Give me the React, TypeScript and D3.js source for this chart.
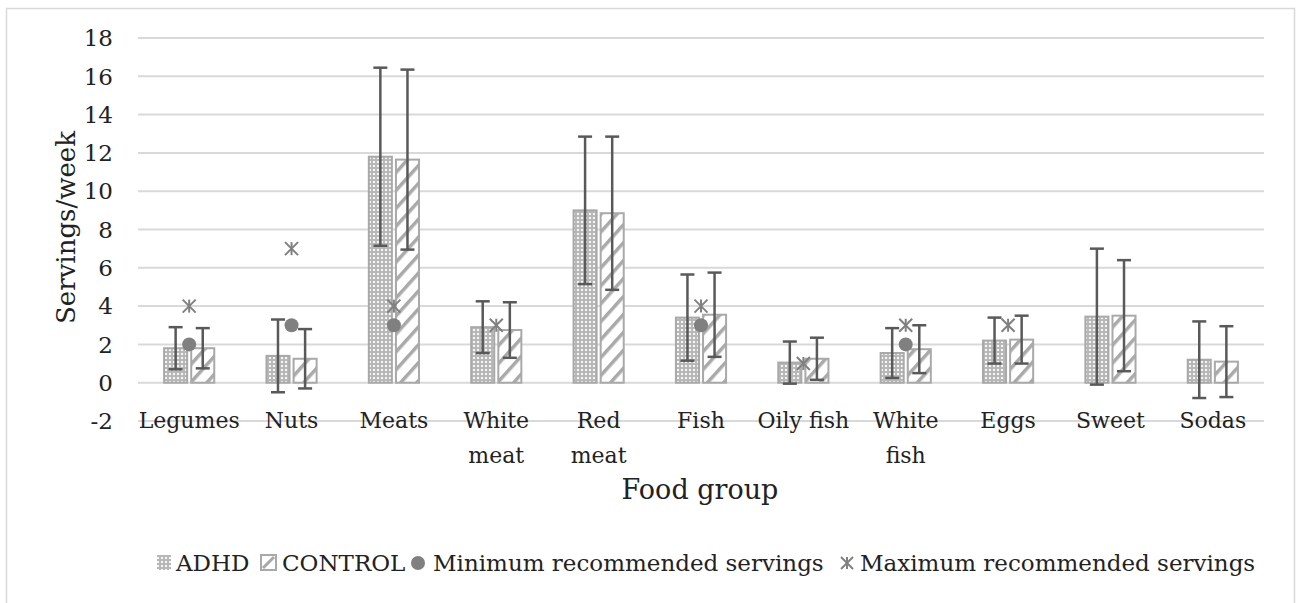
import * as d3 from 'd3';

const categories = ['Legumes', 'Nuts', 'Meats', 'White meat', 'Red meat', 'Fish', 'Oily fish', 'White fish', 'Eggs', 'Sweet', 'Sodas'];
const categoryLines = [['Legumes'], ['Nuts'], ['Meats'], ['White', 'meat'], ['Red', 'meat'], ['Fish'], ['Oily fish'], ['White', 'fish'], ['Eggs'], ['Sweet'], ['Sodas']];

const adhdMean = [1.8, 1.4, 11.8, 2.9, 9.0, 3.4, 1.05, 1.55, 2.2, 3.45, 1.2];
const adhdSd = [1.1, 1.9, 4.65, 1.35, 3.85, 2.25, 1.1, 1.3, 1.2, 3.55, 2.0];
const controlMean = [1.8, 1.25, 11.65, 2.75, 8.85, 3.55, 1.25, 1.75, 2.25, 3.5, 1.1];
const controlSd = [1.05, 1.55, 4.7, 1.45, 4.0, 2.2, 1.1, 1.25, 1.25, 2.9, 1.85];

const minRecommended: (number | null)[] = [2, 3, 3, null, null, 3, null, 2, null, null, null];
const maxRecommended: (number | null)[] = [4, 7, 4, 3, null, 4, 1, 3, 3, null, null];

const yTicks = [-2, 0, 2, 4, 6, 8, 10, 12, 14, 16, 18];
const seriesNames = ['ADHD', 'CONTROL'];

const FONT = '"DejaVu Serif", serif';
const GRID = '#d9d9d9';
const BAR_GRAY = '#a9a9a9';
const ERR = '#595959';
const MARK = '#808080';

function Star({ cx, cy, r }: { cx: number; cy: number; r: number }) {
  return (
    <g stroke={MARK} strokeWidth={2}>
      <line x1={cx - r} y1={cy - r} x2={cx + r} y2={cy + r} />
      <line x1={cx - r} y1={cy + r} x2={cx + r} y2={cy - r} />
      <line x1={cx} y1={cy - r} x2={cx} y2={cy + r} />
    </g>
  );
}

export default function App() {
  const width = 1296;
  const height = 603;
  const plot = { left: 138, right: 1264, top: 38, bottom: 421 };

  const x = d3.scaleBand().domain(categories).range([plot.left, plot.right]);
  const bw = x.bandwidth();
  const x1 = d3.scaleBand().domain(seriesNames).range([bw * 0.255, bw * 0.745]).paddingInner(0.15);
  const y = d3.scaleLinear().domain([-2, 18]).range([plot.bottom, plot.top]);

  const series = [
    { name: 'ADHD', mean: adhdMean, sd: adhdSd, fill: 'url(#dots)' },
    { name: 'CONTROL', mean: controlMean, sd: controlSd, fill: 'url(#stripes)' },
  ];

  const cap = 7;

  return (
    <svg width={width} height={height} style={{ position: 'absolute', left: 0, top: 0 }} fontFamily={FONT}>
      <defs>
        <pattern id="dots" width={4} height={4} patternUnits="userSpaceOnUse">
          <rect width={4} height={4} fill="#b8b8b8" />
          <rect x={1} y={1} width={2} height={2} fill="#f6f6f6" />
        </pattern>
        <pattern id="stripes" width={12} height={12} patternUnits="userSpaceOnUse" patternTransform="rotate(42)">
          <rect width={12} height={12} fill="#fff" />
          <rect x={0} y={0} width={3.5} height={12} fill={BAR_GRAY} />
        </pattern>
      </defs>

      <rect x={6.5} y={8.5} width={1288} height={600} fill="#fff" stroke={GRID} strokeWidth={1.5} />

      {/* Grid */}
      {yTicks.map((t) => (
        <line key={t} x1={plot.left} x2={plot.right} y1={y(t)} y2={y(t)} stroke={GRID} strokeWidth={2} />
      ))}
      {yTicks.map((t) => (
        <text key={'l' + t} x={113} y={y(t)} dy="0.36em" textAnchor="end" fontSize={23} fill="#222">
          {t}
        </text>
      ))}

      {/* Bars */}
      {series.map((s) =>
        categories.map((c, i) => {
          const bx = (x(c) || 0) + (x1(s.name) || 0);
          const top = y(Math.max(0, s.mean[i]));
          return (
            <rect
              key={s.name + c}
              x={bx}
              y={top}
              width={x1.bandwidth()}
              height={y(0) - top}
              fill={s.fill}
              stroke={BAR_GRAY}
              strokeWidth={2}
            />
          );
        })
      )}

      {/* Error bars */}
      {series.map((s) =>
        categories.map((c, i) => {
          const cx = (x(c) || 0) + (x1(s.name) || 0) + x1.bandwidth() / 2;
          const hi = y(s.mean[i] + s.sd[i]);
          const lo = y(s.mean[i] - s.sd[i]);
          return (
            <g key={'e' + s.name + c} stroke={ERR} strokeWidth={2.5}>
              <line x1={cx} x2={cx} y1={hi} y2={lo} />
              <line x1={cx - cap} x2={cx + cap} y1={hi} y2={hi} />
              <line x1={cx - cap} x2={cx + cap} y1={lo} y2={lo} />
            </g>
          );
        })
      )}

      {/* Recommended markers */}
      {categories.map((c, i) =>
        minRecommended[i] == null ? null : (
          <circle key={'min' + c} cx={(x(c) || 0) + bw / 2} cy={y(minRecommended[i] as number)} r={7} fill={MARK} />
        )
      )}
      {categories.map((c, i) =>
        maxRecommended[i] == null ? null : (
          <Star key={'max' + c} cx={(x(c) || 0) + bw / 2} cy={y(maxRecommended[i] as number)} r={6.5} />
        )
      )}

      {/* Category labels */}
      {categories.map((c, i) => (
        <text key={'c' + c} x={(x(c) || 0) + bw / 2} y={428} textAnchor="middle" fontSize={22} fill="#222">
          {categoryLines[i].map((ln, j) => (
            <tspan key={j} x={(x(c) || 0) + bw / 2} dy={j === 0 ? 0 : 35}>
              {ln}
            </tspan>
          ))}
        </text>
      ))}

      {/* Axis titles */}
      <text x={700} y={499} textAnchor="middle" fontSize={27} fill="#222">
        Food group
      </text>
      <text transform={`translate(75, ${(plot.top + plot.bottom) / 2 - 2}) rotate(-90)`} textAnchor="middle" fontSize={26} fill="#222">
        Servings/week
      </text>

      {/* Legend */}
      <g fontSize={23} fill="#222">
        <rect x={157} y={555} width={14} height={15} fill="url(#dots)" />
        <text x={176} y={571}>ADHD</text>
        <rect x={261} y={555} width={15} height={15} fill="#fff" stroke={BAR_GRAY} strokeWidth={2} />
        <line x1={263} y1={568} x2={274} y2={557} stroke={BAR_GRAY} strokeWidth={3} />
        <text x={282} y={571}>CONTROL</text>
        <circle cx={418} cy={563} r={7} fill={MARK} />
        <text x={433} y={571}>Minimum recommended servings</text>
        <Star cx={847} cy={563} r={6} />
        <text x={860} y={571}>Maximum recommended servings</text>
      </g>
    </svg>
  );
}
